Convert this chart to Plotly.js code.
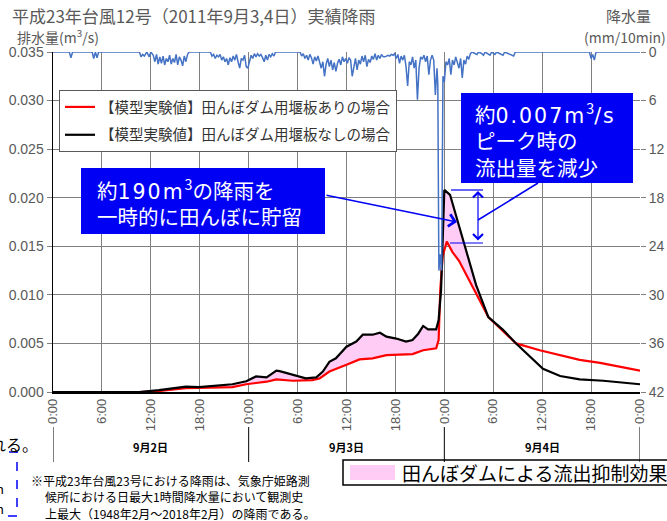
<!DOCTYPE html>
<html><head><meta charset="utf-8">
<script src="https://cdn.plot.ly/plotly-3.0.1.min.js"></script>
<style>html,body{margin:0;padding:0;background:#fff;}#chart{width:667px;height:521px;}</style>
</head><body><div id="chart"></div>
<script>
// ---- data (hours from 9/2 0:00) ----
const tickHours = [0,6,12,18,24,30,36,42,48,54,60,66,72];
const tickLabels = ["0:00","6:00","12:00","18:00","0:00","6:00","12:00","18:00","0:00","6:00","12:00","18:00","0:00"];
const dayLabels = ["9月2日","9月3日","9月4日"];
const dayHours = [12,36,60];
const dayBounds = [0,24,48,72];

const blackHours = [0,5.7,10.6,13.0,16.3,17.9,22.0,23.7,24.9,26.2,27.4,27.8,29.4,31.0,32.3,33.1,33.9,34.7,36.0,37.2,38.0,39.2,40.1,40.9,42.1,43.3,44.1,44.8,45.4,46.0,47.0,47.3,47.6,47.8,48.0,48.7,49.5,50.3,51.1,51.9,53.4,55.2,56.8,58.5,60.1,62.2,64.6,67.5,69.5,72];
const blackFlow = [0,0,0,0.0002,0.00055,0.0005,0.0008,0.0011,0.0016,0.0015,0.0022,0.00215,0.00175,0.00141,0.0015,0.0021,0.0031,0.00347,0.00466,0.0052,0.0059,0.0059,0.0061,0.0057,0.0055,0.0052,0.00535,0.006,0.0068,0.00645,0.00645,0.0074,0.0105,0.017,0.0208,0.0203,0.018,0.0158,0.0134,0.011,0.0077,0.0064,0.005,0.00363,0.0024,0.00165,0.0013,0.00116,0.001,0.0008];

const redHours = [0,10.6,13.0,16.3,22.0,23.7,26.2,27.4,29.4,31.8,32.7,33.9,36.0,37.6,39.2,40.9,44.1,45.4,47.0,47.3,47.5,47.8,48.3,49.0,49.8,50.5,51.3,52.3,53.4,56.8,59.7,62.2,64.6,67.1,69.5,72];
const redFlow = [0,0,0.0001,0.0004,0.0005,0.0008,0.00106,0.0013,0.00116,0.00123,0.0014,0.0021,0.0028,0.00336,0.00347,0.0038,0.0039,0.0043,0.0045,0.00535,0.0105,0.014,0.0155,0.0144,0.0135,0.0124,0.0112,0.0095,0.0077,0.005,0.0043,0.0038,0.0033,0.003,0.0026,0.0022];

const mergeHour = 56.8;

const rainHours = [0,2.0,2.2,2.4,4.8,5.0,5.2,5.4,5.6,10.6,10.8,11.0,11.2,11.5,11.8,12.0,
12.3,12.5,12.7,12.9,13.1,13.3,13.5,13.7,13.9,14.1,14.3,14.5,14.7,14.9,15.1,15.3,15.5,15.7,15.9,16.1,16.3,16.5,16.7,
19.3,19.5,19.7,19.9,20.1,20.3,20.5,20.7,20.9,21.1,21.3,21.5,21.7,21.9,22.1,22.3,22.5,22.7,22.9,23.1,23.3,23.5,23.7,23.9,
24.1,24.3,24.5,24.7,24.9,25.1,25.3,25.5,25.7,25.9,26.1,26.3,26.5,26.7,26.9,27.1,27.3,30.3,
30.5,30.7,30.9,31.1,31.3,31.5,31.7,31.9,32.1,32.3,32.5,32.7,32.9,33.1,33.3,33.5,33.7,33.9,34.1,34.3,34.5,34.7,34.9,35.1,35.3,35.5,35.7,35.9,
36.1,36.3,36.5,36.7,36.9,37.1,37.3,37.5,37.7,37.9,38.1,38.3,38.5,38.7,38.9,39.1,39.3,39.5,39.7,39.9,40.1,40.3,40.5,40.7,40.9,41.1,41.3,41.5,41.7,41.9,
42.1,42.3,42.5,42.7,42.9,43.1,43.3,43.5,43.7,43.9,44.1,44.3,44.5,44.7,44.9,45.1,45.3,45.5,45.7,45.9,46.1,46.3,46.5,46.7,46.9,47.1,
47.2,47.33,47.5,47.67,47.83,48.0,48.2,48.4,48.6,48.8,49.0,49.2,49.4,49.6,49.8,50.0,50.2,50.4,50.6,50.8,51.0,51.2,51.4,
52.0,52.2,52.6,52.8,53.0,53.4,53.6,53.8,54.2,54.4,55.2,55.4,56.5,56.7,65.8,66.0,66.2,66.4,66.6,72];
const rainMm = [0,0,0.7,0,0,0.8,0,0.7,0,0,0.6,0.3,0.5,0,0.6,0,
0.4,1.2,0.3,1.5,0.6,1.4,0.5,1.6,0.8,1.2,0.4,1.5,0.8,1.3,0.3,1.6,0.6,1.0,1.7,0.5,1.2,0.3,0,
0,0.5,0.3,0.8,0.4,0.6,0.3,1.0,0.6,1.2,0.8,1.6,0.7,1.2,0.5,1.0,0.3,1.2,2.0,0.8,1.0,0.4,1.8,2.0,
1.1,0.4,0.8,0.2,0.6,0.2,0.5,0.3,0.7,1.2,0.4,1.0,0.3,0.6,0.2,0.5,0,0,
0.5,0.2,0.8,0.4,1.0,0.3,0.7,1.5,0.6,1.1,0.5,1.3,2.0,1.2,3.0,1.5,0.8,1.8,1.0,2.2,1.3,2.4,1.4,0.9,1.6,0.6,1.2,0.8,
1.4,0.7,1.0,3.0,1.8,0.8,2.2,1.0,1.5,0.5,1.2,0.4,1.8,0.9,1.3,0.5,0.9,0.2,1.0,0.4,0.8,0.3,0.6,0.6,0.5,0.4,0.5,0.3,0.4,0.2,
0.8,0.3,1.4,0.5,1.0,0.4,1.8,4.2,1.2,1.6,0.6,2.0,1.0,5.9,2.0,0.6,0.9,0.4,1.2,0.5,2.8,1.0,0.4,1.0,5.3,2.0,
4.0,27,25,27,3.0,3.7,1.2,1.6,0.8,2.8,1.0,1.6,0.6,1.2,2.0,0.8,3.2,1.0,1.5,0.5,0.9,0.2,0,
0.3,0,0.2,0.4,0,0.3,0.4,0,0.3,0,0.4,0,0.5,0,0,0.8,0.3,1.0,0,0];

// ---- pixel helpers for paper coordinates ----
const L=53, R=640, T=52, B=392;
const px = p => (p-L)/(R-L);
const py = p => (B-p)/(B-T);

// fill polygon between black and red until they merge
const fx = [], fy = [];
blackHours.forEach((h,i)=>{ if(h<=mergeHour){fx.push(h); fy.push(blackFlow[i]);} });
for(let i=redHours.length-1;i>=0;i--){ if(redHours[i]<=mergeHour){fx.push(redHours[i]); fy.push(redFlow[i]);} }

const pink = '#FFCCF5';
const traces = [
  {x: fx, y: fy, type:'scatter', mode:'lines', fill:'toself', fillcolor:pink, line:{width:0, color:pink}, showlegend:false, hoverinfo:'skip'},
  {x: redHours, y: redFlow, type:'scatter', mode:'lines', name:'【模型実験値】田んぼダム用堰板ありの場合', line:{color:'#FF0000', width:2.2}, legendgroup:'a'},
  {x: blackHours, y: blackFlow, type:'scatter', mode:'lines', name:'【模型実験値】田んぼダム用堰板なしの場合', line:{color:'#000000', width:2.2}, legendgroup:'b'},
  {x: rainHours, y: rainMm, type:'scatter', mode:'lines', yaxis:'y2', line:{color:'#4472C4', width:1.5}, showlegend:false}
];

const blue = '#0000F5';
const jp = '"Noto Sans CJK JP", "Noto Sans", sans-serif';
const lat = s => '<span style="font-family:\'DejaVu Sans\';letter-spacing:2px">'+s+'</span>';
const shapes = [
  // blue boxes
  {type:'rect', xref:'paper', yref:'paper', x0:px(81), x1:px(325), y0:py(234), y1:py(168), fillcolor:blue, line:{width:0}},
  {type:'rect', xref:'paper', yref:'paper', x0:px(461), x1:px(633), y0:py(183), y1:py(93), fillcolor:blue, line:{width:0}},
  // connector from box 2
  {type:'line', xref:'paper', yref:'paper', x0:px(538), y0:py(183), x1:px(478), y1:py(220), line:{color:blue, width:1.5}},
  // peak markers
  {type:'line', xref:'paper', yref:'paper', x0:px(451), y0:py(190), x1:px(483), y1:py(190), line:{color:blue, width:1.2}},
  {type:'line', xref:'paper', yref:'paper', x0:px(450), y0:py(243), x1:px(483), y1:py(243), line:{color:blue, width:1.2}},
  // bottom legend box
  {type:'rect', xref:'paper', yref:'paper', x0:px(343), x1:px(680), y0:py(485), y1:py(460), fillcolor:'#fff', line:{color:'#000', width:1.5}},
  {type:'rect', xref:'paper', yref:'paper', x0:px(350), x1:px(395), y0:py(480), y1:py(465), fillcolor:pink, line:{width:0}},
  // dashed box bottom-left
  {type:'rect', xref:'paper', yref:'paper', x0:px(-10), x1:px(17), y0:py(516), y1:py(452), line:{color:blue, width:1.5, dash:'dash'}}
];
// day separator lines
dayBounds.forEach(h=>{
  shapes.push({type:'line', xref:'x', yref:'paper', x0:h, x1:h, y0:py(427), y1:py(462), line:{color:'#000', width:1}});
});

const annotations = [
  {xref:'paper', yref:'paper', x:px(10), y:py(16), xanchor:'left', yanchor:'middle', showarrow:false, text:'平成23年台風12号（2011年9月3,4日）実績降雨', font:{family:jp, size:17, color:'#595959'}},
  {xref:'paper', yref:'paper', x:px(15), y:py(37), xanchor:'left', yanchor:'middle', showarrow:false, text:'排水量(m<sup>3</sup>/s)', font:{family:jp, size:14, color:'#595959'}},
  {xref:'paper', yref:'paper', x:px(653), y:py(16), xanchor:'right', yanchor:'middle', showarrow:false, text:'降水量', font:{family:jp, size:15, color:'#595959'}},
  {xref:'paper', yref:'paper', x:px(668), y:py(37), xanchor:'right', yanchor:'middle', showarrow:false, text:'(mm/10min)', font:{family:jp, size:14, color:'#595959'}},
  // box 1 text
  {xref:'paper', yref:'paper', x:px(95), y:py(202), xanchor:'left', yanchor:'middle', align:'left', showarrow:false, text:'約'+lat('190m')+'<sup>3</sup>の降雨を<br>一時的に田んぼに貯留', font:{family:jp, size:20.5, color:'#fff'}},
  // box 2 text
  {xref:'paper', yref:'paper', x:px(473), y:py(139), xanchor:'left', yanchor:'middle', align:'left', showarrow:false, text:'約'+lat('0.007m')+'<sup>3</sup>'+lat('/s')+'<br>ピーク時の<br>流出量を減少', font:{family:jp, size:20.5, color:'#fff'}},
  // arrow from box 1
  {xref:'paper', yref:'paper', x:px(457), y:py(222), ax:325-457, ay:195-222, text:'', showarrow:true, arrowhead:4, arrowsize:1.6, arrowwidth:1.5, arrowcolor:blue},
  // double arrow
  {xref:'paper', yref:'paper', x:px(478), y:py(191), ax:0, ay:51, text:'', showarrow:true, arrowhead:4, startarrowhead:4, arrowside:'end+start', arrowsize:1.6, startarrowsize:1.6, arrowwidth:1.2, arrowcolor:blue},
  // bottom legend text
  {xref:'paper', yref:'paper', x:px(400), y:py(472), xanchor:'left', yanchor:'middle', showarrow:false, text:'田んぼダムによる流出抑制効果', font:{family:jp, size:19, color:'#000'}},
  // note
  {xref:'paper', yref:'paper', x:px(29), y:py(480), xanchor:'left', yanchor:'middle', showarrow:false, text:'※平成23年台風23号における降雨は、気象庁姫路測', font:{family:jp, size:12, color:'#000'}},
  {xref:'paper', yref:'paper', x:px(43), y:py(496.5), xanchor:'left', yanchor:'middle', showarrow:false, text:'候所における日最大1時間降水量において観測史', font:{family:jp, size:12, color:'#000'}},
  {xref:'paper', yref:'paper', x:px(43), y:py(513), xanchor:'left', yanchor:'middle', showarrow:false, text:'上最大（1948年2月～2018年2月）の降雨である。', font:{family:jp, size:12, color:'#000'}},
  // clipped neighbour text
  {xref:'paper', yref:'paper', x:px(40), y:py(444), xanchor:'right', yanchor:'middle', showarrow:false, text:'される。', font:{family:jp, size:16, color:'#000'}},
  {xref:'paper', yref:'paper', x:px(6), y:py(489), xanchor:'right', yanchor:'middle', showarrow:false, text:'mn', font:{family:jp, size:13, color:'#000'}},
  {xref:'paper', yref:'paper', x:px(6), y:py(508), xanchor:'right', yanchor:'middle', showarrow:false, text:'mn', font:{family:jp, size:13, color:'#000'}}
];
dayLabels.forEach((d,i)=>{
  annotations.push({xref:'x', yref:'paper', x:dayHours[i], y:py(447), xanchor:'center', yanchor:'middle', showarrow:false, text:'<b>'+d+'</b>', font:{family:jp, size:11, color:'#000'}});
});

const tf = {family:'"Liberation Sans", Arial, sans-serif', size:14, color:'#595959'};
const layout = {
  width:667, height:521,
  margin:{l:L, r:667-R, t:T, b:521-B, pad:0},
  paper_bgcolor:'#fff', plot_bgcolor:'#fff',
  font:{family:jp, color:'#595959'},
  showlegend:true,
  legend:{x:px(59), y:py(90), xanchor:'left', yanchor:'top', bgcolor:'#fff', bordercolor:'#595959', borderwidth:1, font:{family:jp, size:14.5, color:'#333'}, tracegroupgap:6, traceorder:'grouped'},
  xaxis:{range:[0,72], tickmode:'array', tickvals:tickHours, ticktext:tickLabels, tickangle:-90, showgrid:true, gridcolor:'#808080', gridwidth:1, zeroline:false, showline:true, linecolor:'#000', linewidth:1.5, ticks:'', tickfont:{family:tf.family, size:13, color:'#595959'}},
  yaxis:{range:[0,0.035], dtick:0.005, tickformat:'.3f', showgrid:true, gridcolor:'#808080', gridwidth:1, zeroline:false, showline:true, linecolor:'#000', linewidth:1.5, ticks:'outside', ticklen:5, tickcolor:'#808080', tickfont:tf},
  yaxis2:{overlaying:'y', side:'right', range:[42,0], dtick:6, showgrid:false, zeroline:false, showline:false, ticks:'outside', ticklen:5, tickcolor:'#808080', tickfont:tf},
  shapes: shapes,
  annotations: annotations
};
Plotly.newPlot('chart', traces, layout, {staticPlot:true, displayModeBar:false});
</script></body></html>
